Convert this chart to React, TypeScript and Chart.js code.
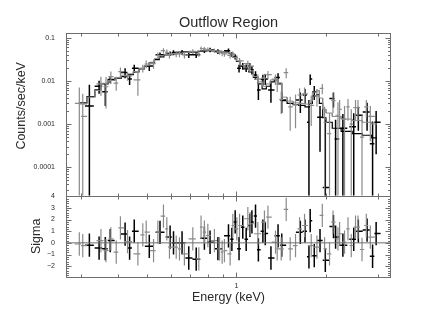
import React, { useEffect, useRef } from 'react';
import { Chart, registerables } from 'chart.js';

Chart.register(...registerables);

// ---------- axes ----------
const TITLE = 'Outflow Region';
const X_TITLE = 'Energy (keV)';
const Y_TITLE = 'Counts/sec/keV';
const R_TITLE = 'Sigma';
const X_MIN = 0.267;
const X_MAX = 3.31;
const Y_MIN = 2.2e-5;
const Y_MAX = 0.128;
const R_MIN = -2.93;
const R_MAX = 4.05;

const xTickValues = [0.3, 0.4, 0.5, 0.6, 0.7, 0.8, 0.9, 1, 2, 3];
const xLabelValues = [1];
const xLabels = ['1'];
const yDecades = [1e-4, 1e-3, 1e-2, 1e-1];
const yDecadeLabels = ['0.0001', '0.001', '0.01', '0.1'];
const rTickValues = [-2, -1, 0, 1, 2, 3, 4];
const rTickLabels = ['\u22122', '\u22121', '0', '1', '2', '3', '4'];

// ---------- black spectrum ----------
const blackE = [
  0.320, 0.345, 0.362, 0.376, 0.422, 0.437, 0.453, 0.509, 0.553, 0.598,
  0.614, 0.656, 0.691, 0.732, 0.780, 0.815, 0.866, 0.940, 0.965, 0.990,
  1.020, 1.050, 1.078, 1.110, 1.127, 1.159, 1.185, 1.227, 1.250, 1.306,
  1.380, 1.420, 1.640, 1.700, 1.753, 1.770, 1.827, 1.910, 1.990, 2.120,
  2.155, 2.280, 2.480, 2.570, 2.750, 2.870, 2.950,
];
const blackFlux = [
  0.0026, 0.0075, 0.0056, 0.0108, 0.0155, 0.011, 0.0195, 0.022, 0.040, 0.043,
  0.045, 0.046, 0.040, 0.040, 0.050, 0.052, 0.048, 0.050, 0.041, 0.036,
  0.0195, 0.022, 0.020, 0.022, 0.018, 0.0136, 0.0061, 0.0108, 0.011, 0.0061,
  0.012, 0.0036, 0.0036, 0.0047, 0.0011, 0.011, 0.0056, 0.00143, 0.000034, 0.0039,
  0.00045, 0.0008, 0.00087, 0.0016, 0.0019, 0.00035, 0.0011,
];
const blackErr = [
  0.0055, 0.0025, 0.003, 0.002, 0.004, 0.003, 0.004, 0.005, 0.005, 0.005,
  0.006, 0.006, 0.006, 0.006, 0.006, 0.006, 0.006, 0.006, 0.005, 0.005,
  0.004, 0.004, 0.004, 0.004, 0.004, 0.003, 0.0025, 0.003, 0.003, 0.003,
  0.003, 0.0018, 0.0018, 0.0018, 0.0025, 0.003, 0.002, 0.0012, 0.0012, 0.0015,
  0.0008, 0.0009, 0.0009, 0.0009, 0.0012, 0.0008, 0.0009,
];
const blackResid = [
  -0.2, -0.45, -0.5, 0.2, 0.75, -0.45, 1.0, -0.3, 0.9, 0.5,
  0.0, 0.0, -1.3, -1.4, 0.4, 0.05, -0.5, 0.6, 0.3, 1.8,
  -0.5, 1.35, 0.3, 1.5, 1.8, 2.3, -0.6, 1.0, 0.8, -1.3,
  0.6, -0.2, 0.9, 1.0, -1.2, 1.9, -1.1, 0.2, -1.5, 1.4,
  0.5, -0.2, 0.3, 1.0, 1.1, -1.15, 0.8,
];

// ---------- gray spectrum ----------
const grayE = [
  0.296, 0.304, 0.350, 0.364, 0.378, 0.394, 0.407, 0.430, 0.466, 0.484, 0.497,
  0.526, 0.544, 0.568, 0.583, 0.595, 0.627, 0.643, 0.668, 0.713, 0.747,
  0.760, 0.780, 0.801, 0.843, 0.877, 0.895, 0.911, 0.952, 0.972, 1.003,
  1.024, 1.092, 1.112, 1.180, 1.242, 1.276, 1.353, 1.371, 1.414, 1.470,
  1.516, 1.580, 1.630, 1.694, 1.784, 1.865, 1.944, 1.979, 2.056, 2.112,
  2.195, 2.223, 2.310, 2.372, 2.433, 2.515, 2.563, 2.644, 2.734, 2.820,
];
const grayFlux = [
  0.003, 0.0015, 0.0085, 0.0073, 0.0125, 0.0089, 0.0163, 0.013, 0.0105, 0.0195, 0.0245,
  0.025, 0.039, 0.050, 0.046, 0.040, 0.042, 0.042, 0.040, 0.048, 0.042,
  0.056, 0.055, 0.053, 0.050, 0.046, 0.043, 0.042, 0.039, 0.042, 0.034,
  0.029, 0.025, 0.022, 0.011, 0.0115, 0.014, 0.011, 0.0085, 0.0037, 0.0155,
  0.0025, 0.0028, 0.0047, 0.0050, 0.0027, 0.0045, 0.0067, 0.0011, 0.0006, 0.0035,
  0.0016, 0.0022, 0.0013, 0.0025, 0.0010, 0.0024, 0.0024, 0.0005, 0.0025, 0.0015,
];
const grayErr = [
  0.004, 0.0035, 0.004, 0.005, 0.004, 0.003, 0.004, 0.003, 0.006, 0.004, 0.005,
  0.006, 0.006, 0.007, 0.007, 0.007, 0.007, 0.007, 0.007, 0.006, 0.006,
  0.006, 0.006, 0.006, 0.006, 0.006, 0.006, 0.006, 0.006, 0.006, 0.005,
  0.005, 0.004, 0.004, 0.003, 0.003, 0.003, 0.003, 0.003, 0.002, 0.004,
  0.0018, 0.002, 0.002, 0.002, 0.0018, 0.002, 0.0018, 0.0014, 0.0012, 0.0017,
  0.0016, 0.0014, 0.0013, 0.0013, 0.0012, 0.0012, 0.0012, 0.0011, 0.0011, 0.0011,
];
const grayResid = [
  -0.1, -0.23, 0.2, -0.66, 0.34, -0.8, 1.29, 0.1, -0.95, 0.69, 0.92,
  -0.66, 0.92, 2.3, 1.2, -0.37, -0.37, -0.52, -0.95, 0.34, -1.38,
  1.35, 0.92, 0.63, 0.2, -0.52, -0.8, -0.66, -0.95, 1.49, 1.2,
  1.49, 2.07, 1.64, 0.78, 1.78, 2.21, 0.06, -0.52, -0.52, 2.87,
  -0.52, -0.23, 1.2, 1.49, -0.23, -0.37, 2.36, -0.52, -0.95, 1.78,
  0.34, 0.78, 0.06, 1.2, -0.23, 1.35, 1.35, -0.57, 1.49, 0.49,
];

// ---------- folded models (bin edges + values) ----------
const modelEdges = [
  0.295, 0.314, 0.334, 0.350, 0.370, 0.390, 0.410, 0.430, 0.450, 0.470,
  0.490, 0.510, 0.530, 0.550, 0.570, 0.600, 0.630, 0.660, 0.700, 0.740,
  0.780, 0.820, 0.860, 0.900, 0.940, 0.970, 1.000, 1.030, 1.060, 1.100,
  1.140, 1.180, 1.220, 1.260, 1.300, 1.340, 1.380, 1.420, 1.480, 1.550,
  1.620, 1.700, 1.760, 1.800, 1.860, 1.900, 1.950, 2.000, 2.100, 2.250,
  2.450, 2.650, 2.850, 2.970,
];
const blackModel = [
  0.0031, 0.0043, 0.0062, 0.0085, 0.0105, 0.0115, 0.0125, 0.014, 0.016, 0.019,
  0.022, 0.026, 0.031, 0.036, 0.040, 0.042, 0.045, 0.047, 0.046, 0.048,
  0.050, 0.049, 0.047, 0.046, 0.043, 0.036, 0.028, 0.022, 0.019, 0.016,
  0.012, 0.0085, 0.0065, 0.0075, 0.0095, 0.0105, 0.0085, 0.0035, 0.0030, 0.0028,
  0.0027, 0.0025, 0.0030, 0.0045, 0.0048, 0.0030, 0.0014, 0.0011, 0.0008, 0.00068,
  0.00060, 0.00055, 0.00048,
];
const grayModel = [
  0.0029, 0.0042, 0.006, 0.0088, 0.0102, 0.012, 0.0135, 0.0145, 0.0165, 0.0195,
  0.0225, 0.027, 0.033, 0.038, 0.041, 0.043, 0.044, 0.046, 0.047, 0.049,
  0.051, 0.050, 0.048, 0.045, 0.042, 0.035, 0.029, 0.023, 0.020, 0.017,
  0.0125, 0.0095, 0.0075, 0.0085, 0.0105, 0.011, 0.009, 0.0042, 0.0034, 0.0031,
  0.0030, 0.0029, 0.0034, 0.0055, 0.0060, 0.0040, 0.0022, 0.0018, 0.0015, 0.0013,
  0.0012, 0.0011, 0.0010,
];

// ---------- styling ----------
const FONT = "'Liberation Sans', Arial, Helvetica, sans-serif";
const BLACK = '#000000';
const GRAY = '#8a8a8a';
const FRAME = '#6e6e6e';
const TEXT = '#2a2a2a';

type P = { x: number; y: number | null };

function binEdges(E: number[]): [number, number][] {
  return E.map((e, i) => {
    const lo = i > 0 ? Math.sqrt(E[i - 1] * e) : e / 1.035;
    const hi = i < E.length - 1 ? Math.sqrt(E[i + 1] * e) : e * 1.035;
    return [Math.max(lo, e / 1.035), Math.min(hi, e * 1.035)];
  });
}

function crosses(E: number[], V: number[], err: number[], floor: number): P[] {
  const edges = binEdges(E);
  const pts: P[] = [];
  E.forEach((e, i) => {
    const [a, b] = edges[i];
    pts.push({ x: a, y: V[i] }, { x: b, y: V[i] }, { x: e, y: null });
    pts.push({ x: e, y: Math.max(V[i] - err[i], floor) }, { x: e, y: V[i] + err[i] }, { x: e, y: null });
  });
  return pts;
}

function steps(edges: number[], vals: number[]): P[] {
  const pts: P[] = [];
  vals.forEach((v, i) => {
    pts.push({ x: edges[i], y: v }, { x: edges[i + 1], y: v });
  });
  return pts;
}

function lineDs(data: P[], axis: string, color: string, width: number) {
  return {
    type: 'line' as const,
    data,
    yAxisID: axis,
    borderColor: color,
    borderWidth: width,
    pointRadius: 0,
    pointHoverRadius: 0,
    pointHitRadius: 0,
    spanGaps: false,
    fill: false,
    tension: 0,
  };
}

const framePlugin = {
  id: 'frame',
  afterDatasetsDraw(chart: any) {
    const { ctx, chartArea } = chart;
    const xs = chart.scales.x;
    const ys = chart.scales.y;
    const rs = chart.scales.yr;
    const L = Math.round(chartArea.left) + 0.5;
    const R = Math.round(chartArea.right) - 0.5;
    const seg = (x1: number, y1: number, x2: number, y2: number) => {
      ctx.beginPath();
      ctx.moveTo(x1, y1);
      ctx.lineTo(x2, y2);
      ctx.stroke();
    };
    ctx.save();
    ctx.lineWidth = 1;
    ctx.strokeStyle = FRAME;
    for (const s of [ys, rs]) {
      const T = Math.round(s.top) + 0.5;
      const B = Math.round(s.bottom) + 0.5;
      ctx.strokeRect(L, T, R - L, B - T);
      for (const v of xTickValues) {
        const px = Math.round(xs.getPixelForValue(v)) + 0.5;
        const len = xLabelValues.includes(v) ? 5 : 3;
        seg(px, T, px, T + len);
        seg(px, B, px, B - len);
      }
    }
    // log y ticks
    for (const d of yDecades.concat([1e-5])) {
      for (let m = 1; m <= 9; m++) {
        const v = d * m;
        if (v < Y_MIN || v > Y_MAX) continue;
        const py = Math.round(ys.getPixelForValue(v)) + 0.5;
        const len = m === 1 ? 5 : 2.5;
        seg(L, py, L + len, py);
        seg(R, py, R - len, py);
      }
    }
    // residual ticks
    for (let k = -28; k <= 40; k += 2) {
      const v = k / 10;
      const py = Math.round(rs.getPixelForValue(v)) + 0.5;
      const len = k % 10 === 0 ? 5 : 2.5;
      seg(L, py, L + len, py);
      seg(R, py, R - len, py);
    }
    // y-axis title of the spectrum panel
    ctx.fillStyle = TEXT;
    ctx.font = `12.5px ${FONT}`;
    ctx.textAlign = 'center';
    ctx.textBaseline = 'middle';
    ctx.translate(22, (ys.top + ys.bottom) / 2 - 8.5);
    ctx.rotate(-Math.PI / 2);
    ctx.fillText(Y_TITLE, 0, 0);
    ctx.restore();
  },
};

export default function App() {
  const ref = useRef<HTMLCanvasElement>(null);

  useEffect(() => {
    const canvas = ref.current;
    if (!canvas) return;

    const datasets: any[] = [
      lineDs([{ x: X_MIN, y: 0 }, { x: X_MAX, y: 0 }], 'yr', FRAME, 1),
      lineDs(crosses(grayE, grayResid, grayResid.map(() => 1), -100), 'yr', GRAY, 1.2),
      lineDs(crosses(blackE, blackResid, blackResid.map(() => 1), -100), 'yr', BLACK, 1.5),
      lineDs(crosses(grayE, grayFlux, grayErr, Y_MIN), 'y', GRAY, 1.2),
      lineDs(steps(modelEdges, grayModel), 'y', GRAY, 1),
      lineDs(crosses(blackE, blackFlux, blackErr, Y_MIN), 'y', BLACK, 1.5),
      lineDs(steps(modelEdges, blackModel), 'y', BLACK, 1.2),
    ];

    const chart = new Chart(canvas, {
      type: 'line',
      data: { datasets },
      plugins: [framePlugin],
      options: {
        animation: false,
        responsive: false,
        devicePixelRatio: 1,
        events: [],
        layout: { padding: { left: 0, right: 45, top: 0, bottom: 0 } },
        plugins: {
          legend: { display: false },
          tooltip: { enabled: false },
          title: {
            display: true,
            fullSize: false,
            text: TITLE,
            color: TEXT,
            font: { family: FONT, size: 14.5, weight: 'normal' },
            padding: { top: 14.3, bottom: 1.3 },
          },
        },
        scales: {
          x: {
            type: 'logarithmic',
            position: 'bottom',
            min: X_MIN,
            max: X_MAX,
            grid: { display: false, drawTicks: false },
            border: { display: false },
            afterBuildTicks: (s: any) => {
              s.ticks = xLabelValues.map((v) => ({ value: v }));
            },
            ticks: {
              autoSkip: false,
              maxRotation: 0,
              padding: 5,
              color: TEXT,
              font: { family: FONT, size: 7 },
              callback: (v: any) => {
                const i = xLabelValues.indexOf(Number(v));
                return i >= 0 ? xLabels[i] : '';
              },
            },
            title: {
              display: true,
              text: X_TITLE,
              color: TEXT,
              font: { family: FONT, size: 12.5 },
              padding: { top: 0, bottom: 21 },
            },
            afterFit: (s: any) => {
              s.height = 49;
            },
          },
          yr: {
            type: 'linear',
            position: 'left',
            stack: 'v',
            stackWeight: 1,
            min: R_MIN,
            max: R_MAX,
            grid: { display: false, drawTicks: false },
            border: { display: false },
            afterBuildTicks: (s: any) => {
              s.ticks = rTickValues.map((v) => ({ value: v }));
            },
            ticks: {
              autoSkip: false,
              padding: 11,
              color: TEXT,
              font: { family: FONT, size: 7 },
              callback: (v: any) => {
                const i = rTickValues.indexOf(Number(v));
                return i >= 0 ? rTickLabels[i] : '';
              },
            },
            title: {
              display: true,
              text: R_TITLE,
              color: TEXT,
              font: { family: FONT, size: 12.5 },
              padding: { top: 29.5, bottom: 0 },
            },
            afterFit: (s: any) => {
              s.width = 66;
            },
          },
          y: {
            type: 'logarithmic',
            position: 'left',
            stack: 'v',
            stackWeight: 2,
            min: Y_MIN,
            max: Y_MAX,
            grid: { display: false, drawTicks: false },
            border: { display: false },
            afterBuildTicks: (s: any) => {
              s.ticks = yDecades.map((v) => ({ value: v }));
            },
            ticks: {
              autoSkip: false,
              padding: 11,
              color: TEXT,
              font: { family: FONT, size: 7 },
              callback: (v: any) => {
                const i = yDecades.findIndex((d) => Math.abs(d - Number(v)) < d * 1e-6);
                return i >= 0 ? yDecadeLabels[i] : '';
              },
            },
            afterFit: (s: any) => {
              s.width = 66;
            },
          },
        },
      } as any,
    });

    return () => chart.destroy();
  }, []);

  return (
    <div style={{ position: 'absolute', left: 0, top: 0, width: 436, height: 326, background: '#ffffff' }}>
      <canvas ref={ref} width={436} height={326} style={{ display: 'block', width: 436, height: 326 }} />
    </div>
  );
}
